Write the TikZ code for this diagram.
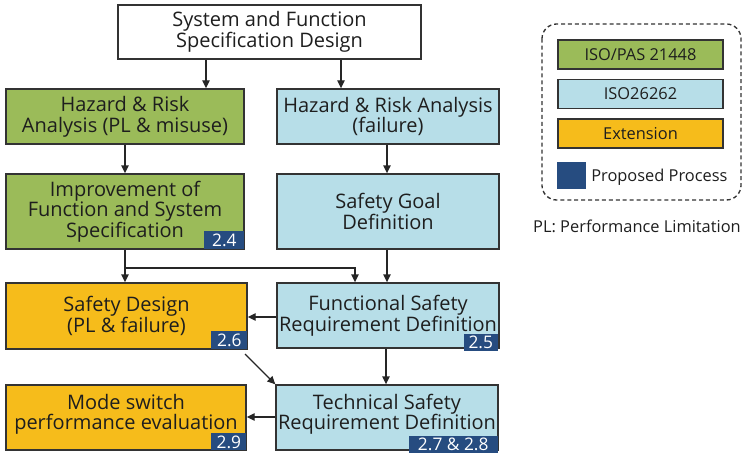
\documentclass[tikz,border=0pt]{standalone}
\usepackage{fontspec}
\setmainfont{Open Sans}
\usetikzlibrary{arrows.meta}
\definecolor{pasgreen}{HTML}{9BBB59}
\definecolor{fsblue}{HTML}{B7DEE8}
\definecolor{extorange}{HTML}{F6BC1B}
\definecolor{propnavy}{HTML}{264C80}
\definecolor{inktext}{HTML}{1E1E1E}
\definecolor{edge}{HTML}{333333}
\begin{document}
\begin{tikzpicture}[x=0.75pt,y=-0.75pt,
  wh/.style 2 args={minimum width=#1*0.75pt, minimum height=#2*0.75pt},
  box/.style={draw=edge, line width=1pt, inner sep=0pt, align=center,
    text=inktext, font=\fontsize{15}{15.5}\selectfont},
  pasbox/.style={box, fill=pasgreen},
  fsbox/.style={box, fill=fsblue},
  extbox/.style={box, fill=extorange},
  lifted/.style={text depth=8.5pt},
  badge/.style={fill=propnavy, text=white, inner sep=0pt, anchor=south east,
    font=\fontsize{13}{13}\selectfont},
  legbox/.style={draw=edge, line width=1pt, inner sep=0pt, text=inktext,
    font=\fontsize{12.3}{13}\selectfont, wh={165}{29}},
  arr/.style={draw=black!85, line width=1pt, -{Triangle[length=6pt,width=5.5pt]}}]
\useasboundingbox (0,0) rectangle (745,456);

% process boxes
\node[box, fill=white, wh={303}{54}] (sys) at (269.5,32) {System and Function\\Specification Design};
\node[pasbox, wh={238}{55}] (hra1) at (125,116.5) {Hazard \& Risk\\Analysis (PL \& misuse)};
\node[fsbox, wh={222}{55}] (hra2) at (388,116.5) {Hazard \& Risk Analysis\\(failure)};
\node[pasbox, wh={238}{75}] (imp) at (125,211.5) {Improvement of\\Function and System\\Specification};
\node[fsbox, wh={222}{75}] (sg) at (388,211.5) {Safety Goal\\Definition};
\node[extbox, wh={241}{66}] (sd) at (126.5,316) {Safety Design\\(PL \& failure)};
\node[fsbox, wh={222}{65}] (fsr) at (388,315.5) {Functional Safety\\Requirement Definition};
\node[extbox, lifted, wh={240}{65}] (ms) at (126,417.5) {Mode switch\\performance evaluation};
\node[fsbox, lifted, wh={222}{65}] (tsr) at (387,417.5) {Technical Safety\\Requirement Definition};

% section badges
\node[badge, wh={40}{18}] (b24) at (imp.south east) {2.4};
\node[badge, wh={36}{18}] (b26) at (sd.south east) {2.6};
\node[badge, wh={34}{17}] (b25) at (498,351) {2.5};
\node[badge, wh={35}{17}] (b29) at (ms.south east) {2.9};
\node[badge, wh={89}{17}] (b278) at (498,453) {2.7 \& 2.8};

% connector guides
\coordinate (xa) at (206,0);
\coordinate (xb) at (341,0);
\coordinate (xr) at (387,0);
\coordinate (xr2) at (386,0);
\coordinate (jn) at (355,268);
\coordinate (yf) at (0,317);
\coordinate (yt) at (0,417);
\coordinate (dstart) at (245,354);

% connectors
\draw[arr] (sys.south -| xa) -- (hra1.north -| xa);
\draw[arr] (sys.south -| xb) -- (hra2.north -| xb);
\draw[arr] (hra1) -- (imp);
\draw[arr] (hra2.south -| xr) -- (sg.north -| xr);
\draw[arr] (imp.south) -- (sd.north -| imp.south);
\draw[arr] (imp.south |- jn) -| (fsr.north -| jn);
\draw[arr] (sg.south -| xr) -- (fsr.north -| xr);
\draw[arr] (fsr.west |- yf) -- (sd.east |- yf);
\draw[arr] (fsr.south -| xr2) -- (tsr.north -| xr2);
\draw[arr] (dstart) -- (tsr.north west);
\draw[arr] (tsr.west |- yt) -- (ms.east |- yt);

% legend
\draw[edge, line width=1pt, dash pattern=on 3pt off 2.2pt, rounded corners=11pt]
  (542,24) rectangle (741,200);
\node[legbox, fill=pasgreen] (lpas) at (640.5,54.5) {ISO/PAS 21448};
\node[legbox, fill=fsblue] (lfs) at (640.5,94) {ISO26262};
\node[legbox, fill=extorange] (lext) at (640.5,133.5) {Extension};
\node[fill=propnavy, inner sep=0pt, wh={29}{27}] (lprop) at (571.5,175.5) {};
\node[anchor=west, inner sep=0pt, text=inktext, font=\fontsize{12.3}{13}\selectfont] (lproptxt) at (591,177) {Proposed Process};
\node[inner sep=0pt, text=inktext, font=\fontsize{12.3}{13}\selectfont] (plnote) at (637,226) {PL: Performance Limitation};
\end{tikzpicture}
\end{document}
